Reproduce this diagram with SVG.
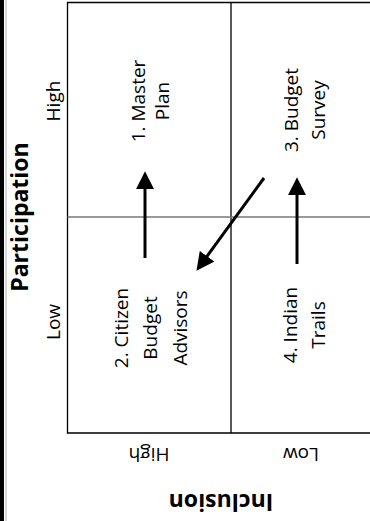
<svg xmlns="http://www.w3.org/2000/svg" width="370" height="521" viewBox="0 0 370 521">
<style>
.t{font-family:"Open Sans","Liberation Sans",sans-serif;font-size:19px;fill:#000;text-anchor:middle}
.b{font-family:"Open Sans","Liberation Sans",sans-serif;font-size:23px;font-weight:bold;fill:#000;text-anchor:middle}
.ln{stroke:#000;stroke-width:1.3;fill:none}
.ar{stroke:#000;stroke-width:3;fill:none}
</style>
<defs>
<marker id="ah" markerUnits="userSpaceOnUse" markerWidth="18" markerHeight="18" viewBox="0 0 16 16" refX="1" refY="8" orient="auto">
<path d="M0,0 L16,8 L0,16 Z" fill="#000"/>
</marker>
</defs>
<rect width="370" height="521" fill="#fff"/>
<rect x="0" y="0" width="4" height="521" fill="#000"/>
<line x1="6" y1="0" x2="6" y2="521" stroke="#c8c8c8" stroke-width="1.5"/>
<g id="grid">
<path class="ln" d="M371,2.5 H67.5 V433 H371"/>
<line class="ln" x1="231" y1="2.5" x2="231" y2="433"/>
<line x1="67.5" y1="217" x2="371" y2="217" stroke="#777" stroke-width="1.3"/>
</g>
<g id="axis-participation">
<text class="b" transform="translate(28,217) rotate(-90)">Participation</text>
<text class="t" transform="translate(60,101) rotate(-90)">High</text>
<text class="t" transform="translate(60,322) rotate(-90)">Low</text>
</g>
<g id="axis-inclusion">
<text class="t" transform="translate(149,448) rotate(180)">High</text>
<text class="t" transform="translate(301,448) rotate(180)">Low</text>
<text class="b" transform="translate(221,494) rotate(180)">Inclusion</text>
</g>
<g id="n1">
<text class="t" transform="translate(145,101) rotate(-90)">1. Master</text>
<text class="t" transform="translate(169,101) rotate(-90)">Plan</text>
</g>
<g id="n2">
<text class="t" transform="translate(128,328) rotate(-90)">2. Citizen</text>
<text class="t" transform="translate(157,328) rotate(-90)">Budget</text>
<text class="t" transform="translate(187,328) rotate(-90)">Advisors</text>
</g>
<g id="n3">
<text class="t" transform="translate(298,110) rotate(-90)">3. Budget</text>
<text class="t" transform="translate(325,110) rotate(-90)">Survey</text>
</g>
<g id="n4">
<text class="t" transform="translate(297,325) rotate(-90)">4. Indian</text>
<text class="t" transform="translate(325,325) rotate(-90)">Trails</text>
</g>
<g id="connectors">
<line class="ar" x1="145" y1="258" x2="145" y2="188" marker-end="url(#ah)"/>
<line class="ar" x1="297" y1="264" x2="297" y2="194" marker-end="url(#ah)"/>
<line class="ar" x1="264" y1="178" x2="206.4" y2="257.1" marker-end="url(#ah)"/>
</g>
</svg>
